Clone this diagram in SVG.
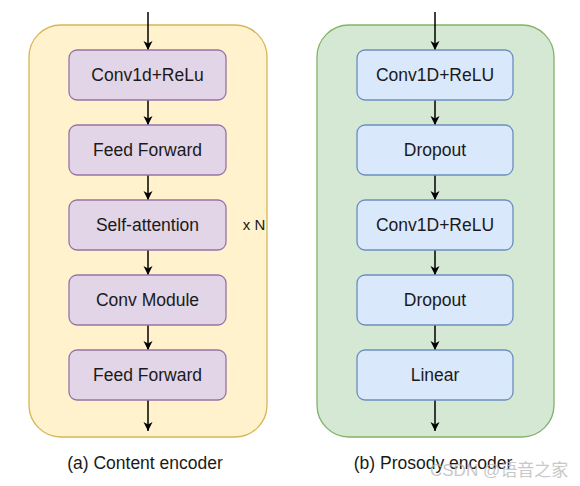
<svg xmlns="http://www.w3.org/2000/svg" width="580" height="486" viewBox="0 0 580 486">
<defs>
<style>
.t{font-family:"Liberation Sans",Arial,sans-serif;font-size:17.5px;fill:#1a1a1a;text-anchor:middle}
.p{fill:#e1d5e7;stroke:#9673a6;stroke-width:1.3}
.b{fill:#dae8fc;stroke:#6c8ebf;stroke-width:1.3}
.c{stroke:#000;stroke-width:1.5;fill:none;marker-end:url(#ah)}
</style>
<marker id="ah" markerWidth="12" markerHeight="12" refX="10" refY="6" orient="auto" markerUnits="userSpaceOnUse">
<path d="M1,1.5 L10,6 L1,10.5 L3.5,6 Z" fill="#000"/>
</marker>
</defs>
<rect width="580" height="486" fill="#fff"/>
<g id="content-encoder">
<rect x="29" y="25" width="238" height="412" rx="32" fill="#fff2cc" stroke="#d6b656" stroke-width="1.3"/>
</g>
<g id="prosody-encoder">
<rect x="317" y="25" width="237" height="412" rx="32" fill="#d5e8d4" stroke="#82b366" stroke-width="1.3"/>
</g>
<g id="connectors">
<path class="c" d="M148,12 V50"/>
<path class="c" d="M148,100 V125"/>
<path class="c" d="M148,175 V200"/>
<path class="c" d="M148,250 V275"/>
<path class="c" d="M148,325 V350"/>
<path class="c" d="M148,400 V431"/>
<path class="c" d="M435,12 V50"/>
<path class="c" d="M435,100 V125"/>
<path class="c" d="M435,175 V200"/>
<path class="c" d="M435,250 V275"/>
<path class="c" d="M435,325 V350"/>
<path class="c" d="M435,400 V431"/>
</g>
<g id="a1"><rect class="p" x="69" y="50" width="157" height="50" rx="8"/><text class="t" x="147.5" y="81">Conv1d+ReLu</text></g>
<g id="a2"><rect class="p" x="69" y="125" width="157" height="50" rx="8"/><text class="t" x="147.5" y="156">Feed Forward</text></g>
<g id="a3"><rect class="p" x="69" y="200" width="157" height="50" rx="8"/><text class="t" x="147.5" y="231">Self-attention</text></g>
<g id="a4"><rect class="p" x="69" y="275" width="157" height="50" rx="8"/><text class="t" x="147.5" y="306">Conv Module</text></g>
<g id="a5"><rect class="p" x="69" y="350" width="157" height="50" rx="8"/><text class="t" x="147.5" y="381">Feed Forward</text></g>
<g id="b1"><rect class="b" x="357" y="50" width="156" height="50" rx="8"/><text class="t" x="435" y="81">Conv1D+ReLU</text></g>
<g id="b2"><rect class="b" x="357" y="125" width="156" height="50" rx="8"/><text class="t" x="435" y="156">Dropout</text></g>
<g id="b3"><rect class="b" x="357" y="200" width="156" height="50" rx="8"/><text class="t" x="435" y="231">Conv1D+ReLU</text></g>
<g id="b4"><rect class="b" x="357" y="275" width="156" height="50" rx="8"/><text class="t" x="435" y="306">Dropout</text></g>
<g id="b5"><rect class="b" x="357" y="350" width="156" height="50" rx="8"/><text class="t" x="435" y="381">Linear</text></g>
<text class="t" x="254" y="230" style="font-size:15px">x N</text>
<text class="t" x="145" y="469">(a) Content encoder</text>
<text class="t" x="433" y="469">(b) Prosody encoder</text>
<text x="430" y="476" style="font-family:'Liberation Sans','Noto Sans CJK SC',sans-serif;font-size:17px;fill:#bbbbbb;opacity:0.8">CSDN @语音之家</text>
</svg>
